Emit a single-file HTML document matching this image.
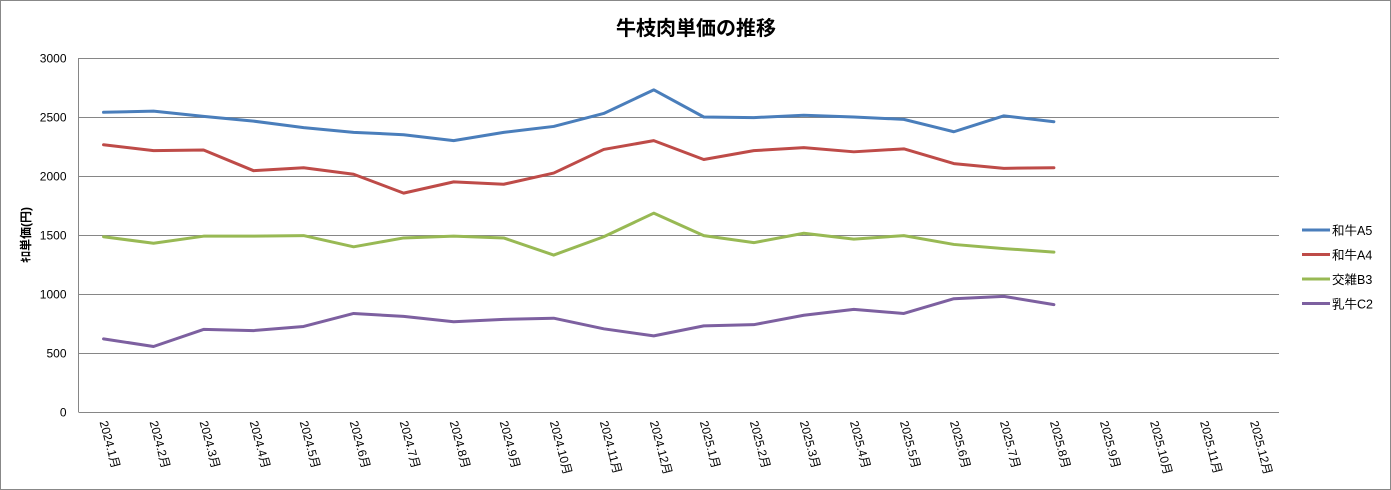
<!DOCTYPE html>
<html><head><meta charset="utf-8">
<style>
html,body{margin:0;padding:0;background:#fff;}
svg{display:block;font-family:"Liberation Sans","Noto Sans CJK JP",sans-serif;}
</style></head>
<body>
<svg id="chart" width="1391" height="490">
<rect x="0.5" y="0.5" width="1390" height="489" fill="#fff" stroke="#888"/>
<text x="696" y="35" text-anchor="middle" font-size="20" font-weight="bold" fill="#000">牛枝肉単価の推移</text>
<text transform="translate(30,235) rotate(-90)" text-anchor="middle" font-size="12" font-weight="bold">ｷﾛ単価(円)</text>
<g id="grid"></g><g id="yt"></g><g id="xt"></g><g id="series"></g><g id="legend"></g>
</svg>
<script>
const categories=["2024.1月","2024.2月","2024.3月","2024.4月","2024.5月","2024.6月","2024.7月","2024.8月","2024.9月","2024.10月","2024.11月","2024.12月","2025.1月","2025.2月","2025.3月","2025.4月","2025.5月","2025.6月","2025.7月","2025.8月","2025.9月","2025.10月","2025.11月","2025.12月"];
const seriesNames=["和牛A5","和牛A4","交雑B3","乳牛C2"];
const seriesColors=["#4a7ebb","#be4b48","#98b954","#7d60a0"];
const a5=[2540,2550,2505,2465,2410,2370,2350,2300,2370,2420,2530,2730,2500,2495,2515,2500,2480,2375,2510,2460];
const a4=[2265,2215,2220,2045,2070,2015,1855,1950,1930,2025,2225,2300,2140,2215,2240,2205,2230,2105,2065,2070];
const b3=[1485,1430,1490,1490,1495,1400,1475,1490,1475,1330,1485,1685,1495,1435,1515,1465,1495,1420,1385,1355];
const c2=[620,555,700,690,725,835,810,765,785,795,705,645,730,740,820,870,835,960,980,910];
const yTicks=[0,500,1000,1500,2000,2500,3000];
const NS="http://www.w3.org/2000/svg";
const L=78.5,R=1279,T=58,B=412,yMax=3000;
const band=(R-L)/categories.length;
const xs=i=>L+band*(i+0.5);
const ys=v=>B-(v/yMax)*(B-T);
function mk(tag,attrs,parent){const e=document.createElementNS(NS,tag);for(const k in attrs)e.setAttribute(k,attrs[k]);parent.appendChild(e);return e;}
const grid=document.getElementById('grid'),yt=document.getElementById('yt'),xt=document.getElementById('xt'),sg=document.getElementById('series'),lg=document.getElementById('legend');
yTicks.forEach(v=>{
  const y=Math.round(ys(v))+0.5;
  if(v>0){const g=mk('line',{x1:L,x2:R,y1:y,y2:y,stroke:'#868686','stroke-width':1},grid);
  
  }
  const t=mk('text',{x:L-12,y:y+4,'text-anchor':'end','font-size':12,fill:'#000'},yt);t.textContent=v;
  
  
});
const ax=mk('line',{x1:L,x2:L,y1:T,y2:B,stroke:'#868686'},grid);


const bx=mk('line',{x1:L,x2:R,y1:B+0.5,y2:B+0.5,stroke:'#868686'},grid);


categories.forEach((c,i)=>{
  const x=xs(i);
  const t=mk('text',{x:0,y:0,'font-size':12,fill:'#000',transform:`translate(${x-4},${B+10}) rotate(75)`},xt);t.textContent=c;
  
  
});
[a5,a4,b3,c2].forEach((arr,si)=>{
  const p=mk('polyline',{points:arr.map((v,i)=>xs(i)+','+ys(v)).join(' '),fill:'none',stroke:seriesColors[si],'stroke-width':3,'stroke-linejoin':'round','stroke-linecap':'round'},sg);
  
  
  const ly=230+si*24.5;
  const ll=mk('line',{x1:1302,x2:1330,y1:ly,y2:ly,stroke:seriesColors[si],'stroke-width':3},lg);
  
  
  const lt=mk('text',{x:1332,y:ly+5,'font-size':12.5,fill:'#000'},lg);lt.textContent=seriesNames[si];
  
  
});
</script>
</body></html>
